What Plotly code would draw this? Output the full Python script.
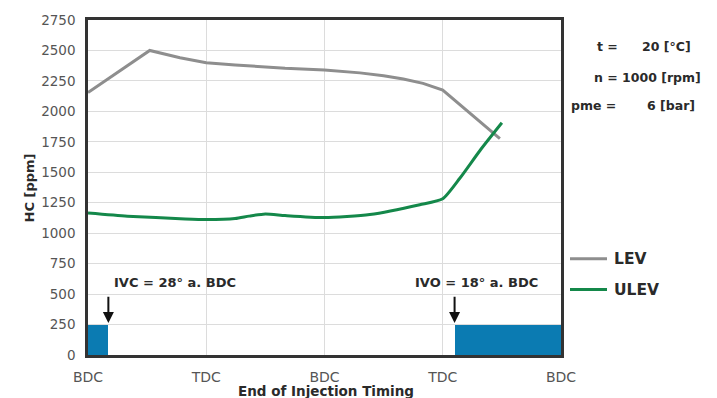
import plotly.graph_objects as go

# ---- data ----
lev_deg = [0, 94, 140, 180, 224, 300, 360, 414, 450, 480, 510, 540, 627]
lev_hc = [2155, 2500, 2440, 2400, 2381, 2354, 2340, 2316, 2292, 2265, 2230, 2175, 1776]

ulev_deg = [0, 60, 148, 180, 224, 245, 270, 300, 360, 429, 505, 540, 566, 597, 630]
ulev_hc = [1166, 1140, 1117, 1112, 1120, 1140, 1158, 1145, 1128, 1153, 1234, 1283, 1451, 1681, 1906]

valve_start = [0, 558]
valve_end = [31, 720]
valve_height = [250, 250]

x_tickvals = [0, 180, 360, 540, 720]
x_ticktext = ["BDC", "TDC", "BDC", "TDC", "BDC"]
y_tickvals = list(range(0, 2751, 250))

GRAY = "#8e8e8e"
GREEN = "#14884a"
BLUE = "#0b7bb2"
FONT = "DejaVu Sans"
DARK = "#2a2a2a"

fig = go.Figure()

fig.add_trace(go.Bar(
    x=[(s + e) / 2 for s, e in zip(valve_start, valve_end)],
    y=valve_height,
    width=[e - s for s, e in zip(valve_start, valve_end)],
    marker=dict(color=BLUE, line=dict(width=0)),
    showlegend=False, hoverinfo="skip",
))
fig.add_trace(go.Scatter(x=lev_deg, y=lev_hc, mode="lines", name="LEV",
                         line=dict(color=GRAY, width=3), showlegend=False))
fig.add_trace(go.Scatter(x=ulev_deg, y=ulev_hc, mode="lines", name="ULEV",
                         line=dict(color=GREEN, width=3, shape="spline", smoothing=0.6),
                         showlegend=False))

L, R, T, B = 88, 561, 17, 355
W, H = 717, 398


def px(xp):
    return (xp - L) / (R - L)


def py(yp):
    return (B - yp) / (B - T)


ann = []
# arrows
for xa in [31, 558]:
    ann.append(dict(x=xa, y=262, ax=xa, ay=490, xref="x", yref="y", axref="x", ayref="y",
                    text="", showarrow=True, arrowhead=2, arrowsize=1.1, arrowwidth=2,
                    arrowcolor="#111111"))
ann.append(dict(x=132, y=594, xref="x", yref="y", text="<b>IVC = 28° a. BDC</b>", showarrow=False,
                font=dict(family=FONT, size=13, color=DARK), xanchor="center", yanchor="middle"))
ann.append(dict(x=592, y=594, xref="x", yref="y", text="<b>IVO = 18° a. BDC</b>", showarrow=False,
                font=dict(family=FONT, size=13, color=DARK), xanchor="center", yanchor="middle"))

# conditions text
cond = [
    ("t =", 620, "right", 44), ("20 [°C]", 693, "right", 44),
    ("n = 1000 [rpm]", 703, "right", 75),
    ("pme =", 618, "right", 103), ("6 [bar]", 697, "right", 103),
]
for t, xp, anc, yp in cond:
    ann.append(dict(x=px(xp), y=py(yp), xref="paper", yref="paper", text="<b>%s</b>" % t,
                    showarrow=False, font=dict(family=FONT, size=12.5, color=DARK),
                    xanchor=anc, yanchor="middle"))

# legend
shapes = []
for name, col, yp in [("LEV", GRAY, 258), ("ULEV", GREEN, 289)]:
    shapes.append(dict(type="line", xref="paper", yref="paper", x0=px(570), x1=px(607),
                       y0=py(yp), y1=py(yp), line=dict(color=col, width=3)))
    ann.append(dict(x=px(612), y=py(yp), xref="paper", yref="paper", text="<b>%s</b>" % name,
                    showarrow=False, font=dict(family=FONT, size=15.5, color=DARK),
                    xanchor="left", yanchor="middle"))

# axis titles
ann.append(dict(x=px(326), y=py(391), xref="paper", yref="paper", text="<b>End of Injection Timing</b>",
                showarrow=False, font=dict(family=FONT, size=13.5, color=DARK),
                xanchor="center", yanchor="middle"))
ann.append(dict(x=px(29), y=py(187), xref="paper", yref="paper", text="<b>HC [ppm]</b>",
                showarrow=False, textangle=-90, font=dict(family=FONT, size=13, color=DARK),
                xanchor="center", yanchor="middle"))

fig.update_layout(
    width=W, height=H,
    margin=dict(l=L, r=W - R, t=T, b=H - B, pad=0),
    paper_bgcolor="white", plot_bgcolor="white",
    annotations=ann, shapes=shapes,
    bargap=0,
    font=dict(family=FONT),
)
fig.update_xaxes(range=[0, 720], tickvals=x_tickvals, ticktext=x_ticktext,
                 showgrid=True, gridcolor="#dcdcdc", gridwidth=1,
                 showline=True, linecolor="#333333", linewidth=2.5, mirror=True,
                 ticks="outside", ticklen=7, tickcolor="rgba(0,0,0,0)",
                 tickfont=dict(family=FONT, size=14, color="#555555"), zeroline=False)
fig.update_yaxes(range=[0, 2750], tickvals=y_tickvals,
                 showgrid=True, gridcolor="#dcdcdc", gridwidth=1,
                 showline=True, linecolor="#333333", linewidth=2.5, mirror=True,
                 ticks="outside", ticklen=7, tickcolor="rgba(0,0,0,0)",
                 tickfont=dict(family=FONT, size=13.5, color="#555555"), zeroline=False)

fig.write_html("out.html")
